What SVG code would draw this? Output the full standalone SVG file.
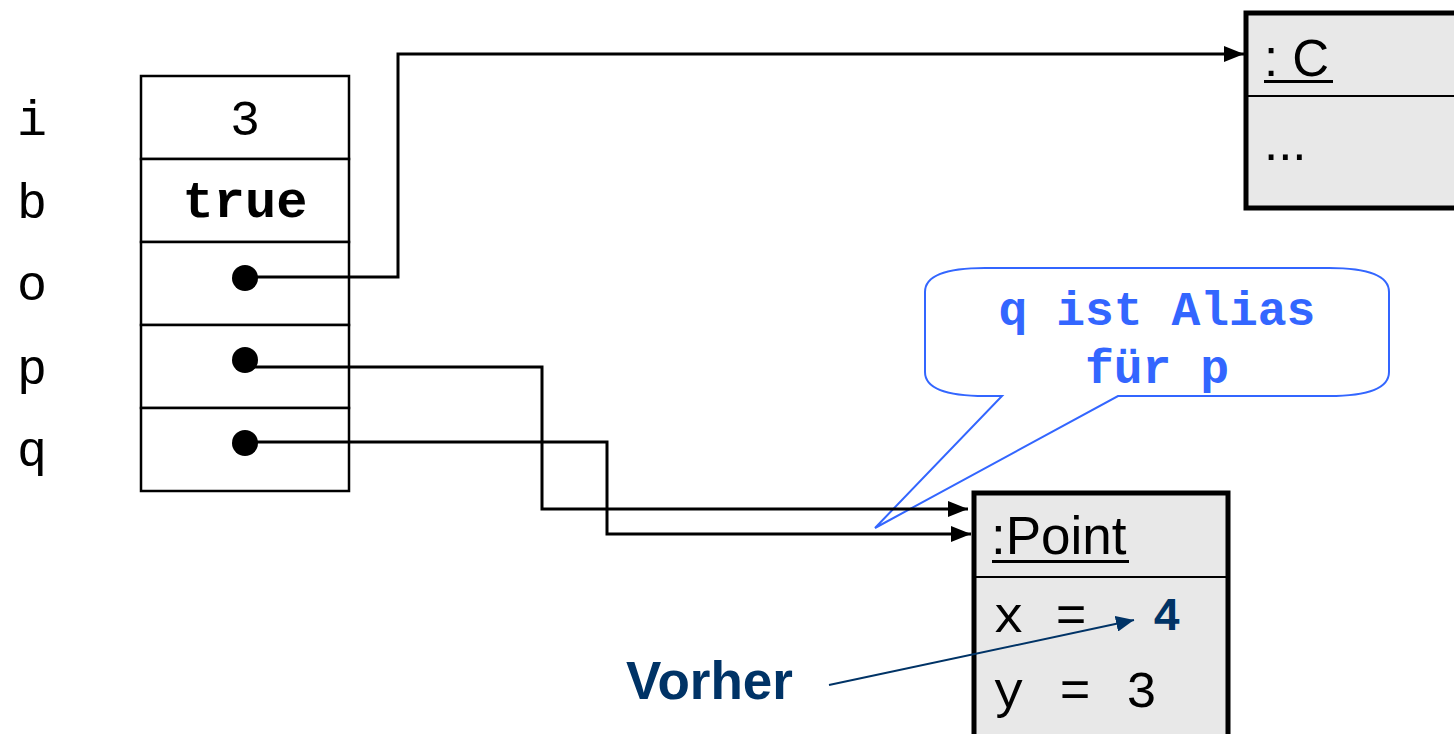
<svg xmlns="http://www.w3.org/2000/svg" width="1454" height="734" viewBox="0 0 1454 734">
<style>
.mono{font-family:"Liberation Mono","Courier New",monospace;font-size:50px;fill:#000}
.sans{font-family:"Liberation Sans",Arial,sans-serif}
.cell{fill:#fff;stroke:#000;stroke-width:2.5}
.obj{fill:#e8e8e8;stroke:#000;stroke-width:5}
.div{stroke:#000;stroke-width:2}
.conn{fill:none;stroke:#000;stroke-width:3}
.callout{fill:#fff;stroke:#3366ff;stroke-width:2}
.ctext{font-family:"Liberation Mono","Courier New",monospace;font-weight:bold;font-size:48px;fill:#3366ff}
.navy{fill:#003366}
</style>
<defs>
<marker id="ah" markerWidth="20" markerHeight="16" refX="20" refY="8" orient="auto" markerUnits="userSpaceOnUse">
<path d="M0,0 L20,8 L0,16 Z" fill="#000"/>
</marker>
<marker id="ahn" markerWidth="18" markerHeight="16" refX="18" refY="8" orient="auto" markerUnits="userSpaceOnUse">
<path d="M0,0 L18,8 L0,16 Z" fill="#003366"/>
</marker>
</defs>

<g id="labels">
<text class="mono" x="32" y="135" text-anchor="middle">i</text>
<text class="mono" x="32" y="218" text-anchor="middle">b</text>
<text class="mono" x="32" y="300" text-anchor="middle">o</text>
<text class="mono" x="32" y="384" text-anchor="middle">p</text>
<text class="mono" x="32" y="466" text-anchor="middle">q</text>
</g>

<g id="stack">
<rect class="cell" x="141" y="76" width="208" height="83"/>
<rect class="cell" x="141" y="159" width="208" height="83"/>
<rect class="cell" x="141" y="242" width="208" height="83"/>
<rect class="cell" x="141" y="325" width="208" height="83"/>
<rect class="cell" x="141" y="408" width="208" height="83"/>
<text class="mono" x="245" y="135" text-anchor="middle">3</text>
<text class="mono" x="245" y="217" text-anchor="middle" font-weight="bold" style="font-size:52px">true</text>
<circle cx="245" cy="278" r="13" fill="#000"/>
<circle cx="245" cy="360" r="13" fill="#000"/>
<circle cx="245" cy="443" r="13" fill="#000"/>
</g>

<g id="objC">
<rect class="obj" x="1246" y="13" width="220" height="195"/>
<line class="div" x1="1246" y1="96" x2="1454" y2="96"/>
<text class="sans" x="1264" y="76" font-size="51">: C</text>
<rect x="1264" y="80" width="69" height="3" fill="#000"/>
<text class="sans" x="1264" y="160" font-size="51">...</text>
</g>

<g id="objPoint">
<rect class="obj" x="974" y="493" width="254" height="260"/>
<line class="div" x1="974" y1="577" x2="1228" y2="577"/>
<text class="sans" x="991" y="554" font-size="53">:Point</text>
<rect x="992" y="560" width="137" height="3" fill="#000"/>
<text class="mono" x="993" y="632" style="font-size:52px">x = </text>
<text class="mono navy" x="1153" y="630" font-weight="bold" style="fill:#003366;font-size:46px">4</text>
<text class="mono" x="993" y="707" style="font-size:52px;letter-spacing:2px">y = 3</text>
</g>

<g id="callout">
<path class="callout" d="M985,268 L1329,268 Q1389,268 1389,292 L1389,372 Q1389,396 1329,396 L1118,396 L875,528 L1002,396 L985,396 Q925,396 925,372 L925,292 Q925,268 985,268 Z"/>
<text class="ctext" x="1157" y="325" text-anchor="middle">q ist Alias</text>
<text class="ctext" x="1157" y="383" text-anchor="middle">für p</text>
</g>

<g id="vorher">
<text class="sans navy" x="626" y="699" font-size="53" font-weight="bold">Vorher</text>
</g>

<g id="connectors">
<path class="conn" d="M245,277 L398,277 L398,54 L1244,54" marker-end="url(#ah)"/>
<path class="conn" d="M245,367 L542,367 L542,509 L968,509" marker-end="url(#ah)"/>
<path class="conn" d="M245,442 L607,442 L607,534 L971,534" marker-end="url(#ah)"/>
<line x1="829" y1="685" x2="1134" y2="620" stroke="#003366" stroke-width="2" marker-end="url(#ahn)"/>
</g>
</svg>
